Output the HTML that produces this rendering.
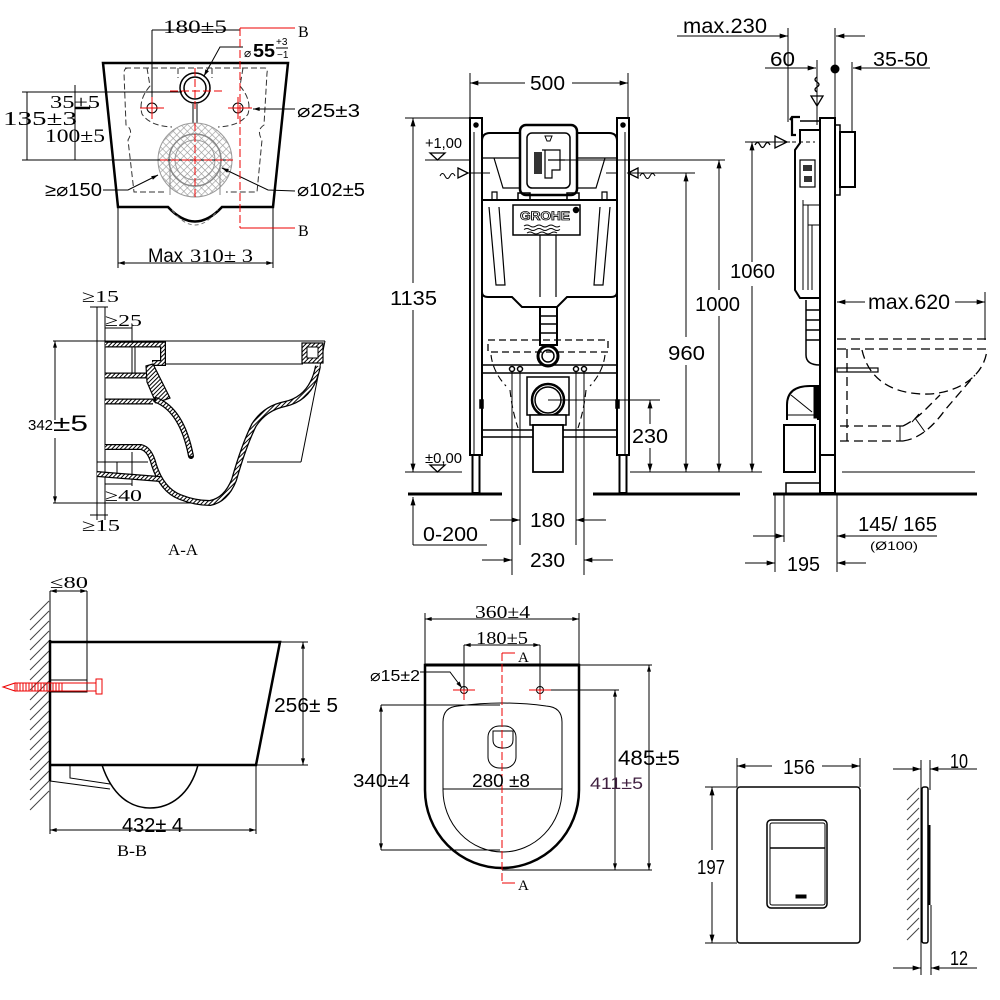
<!DOCTYPE html>
<html><head><meta charset="utf-8"><style>
html,body{margin:0;padding:0;background:#fff;}
svg{display:block;}
.s{font-family:"Liberation Sans",Arial,sans-serif;}
.r{font-family:"Liberation Serif","Times New Roman",serif;}
</style></head><body>
<svg width="1000" height="1000" viewBox="0 0 1000 1000" xmlns="http://www.w3.org/2000/svg" xmlns:xlink="http://www.w3.org/1999/xlink">
<defs>
<marker id="a" viewBox="0 0 10 6" refX="10" refY="3" markerWidth="10" markerHeight="5" markerUnits="userSpaceOnUse" orient="auto-start-reverse"><path d="M0,0 L10,3 L0,6 Z" fill="#000"/></marker>
<marker id="sa" viewBox="0 0 10 6" refX="10" refY="3" markerWidth="7" markerHeight="4" markerUnits="userSpaceOnUse" orient="auto-start-reverse"><path d="M0,0 L10,3 L0,6 Z" fill="#000"/></marker>
<pattern id="hw" width="3" height="3" patternUnits="userSpaceOnUse" patternTransform="rotate(45)"><rect width="3" height="3" fill="#fff"/><rect width="1" height="3" fill="#000"/></pattern>
<pattern id="cx" width="5" height="5" patternUnits="userSpaceOnUse" patternTransform="rotate(45)"><rect width="5" height="5" fill="#fff"/><path d="M0,0 V5 M0,0 H5" stroke="#999" stroke-width="1.2" fill="none"/></pattern>
<path id="w1" d="M105,344.5 H163 V363 H152"/>
<path id="w2" d="M105,375.5 H146"/>
<path id="w3" d="M105,401.5 H153"/>
<path id="w5" d="M156,400 Q182,410 191,456"/>
<path id="w6" d="M105,447 H141 Q150,449 154,465 Q162,490 180,497 Q195,503 210,503 Q226,500 234,480 Q244,445 254,425 Q265,408 285,404 Q312,398 318,366"/>
<path id="w8" d="M97,474 L160,479"/>
</defs>

<!-- ================= PANEL 1: top view ================= -->
<g fill="none" stroke="#000" stroke-width="1">
  <line x1="152" y1="30" x2="240" y2="30"/>
  <line x1="152" y1="30" x2="152" y2="100"/>
  <path d="M103,63 H288 L273,207 H222 Q195,236 168,207 H118 Z" stroke-width="2.5"/>
  <path d="M172,210 Q195,240 218,210" stroke="#777" stroke-dasharray="4 3"/>
  <path d="M125,68 H265 Q268,68 267,73 L264,125 Q256,130 262,140 L257,192 H226 M164,192 H134 L128,140 Q134,130 126,125 L124,73 Q124,68 128,68" stroke-dasharray="6 3" stroke="#333"/>
  <path d="M147,68 L150,86 Q138,100 142,114 Q150,126 172,127 M243,68 L240,86 Q252,100 248,114 Q240,126 218,127 M178,68 V78 M212,68 V78" stroke-dasharray="6 3" stroke="#333"/>
  <circle cx="195" cy="88" r="15" stroke-width="1.5"/>
  <circle cx="195" cy="88" r="11" stroke-width="1.5"/>
  <circle cx="152" cy="108" r="5"/>
  <circle cx="238" cy="108" r="5"/>
  <line x1="193" y1="104" x2="193" y2="124"/><line x1="197" y1="104" x2="197" y2="124"/>
  <circle cx="195" cy="160" r="37" fill="url(#cx)" stroke="#999"/>
  <circle cx="195" cy="160" r="26" stroke="#888" stroke-width="1.5"/>
  <circle cx="195" cy="160" r="20" stroke="#999"/>
  <line x1="170" y1="165" x2="170" y2="195" stroke="#888"/><line x1="220" y1="165" x2="220" y2="195" stroke="#888"/>
  <!-- dims -->
  <line x1="27" y1="92" x2="27" y2="160"/>
  <line x1="22" y1="92" x2="182" y2="92"/>
  <line x1="22" y1="160" x2="233" y2="160"/>
  <line x1="75" y1="85" x2="75" y2="160"/>
  <line x1="75" y1="108" x2="90" y2="108" stroke-width="2.5"/>
  <polyline points="243,47 220,47 204,76" marker-end="url(#sa)"/>
  <line x1="295" y1="109" x2="253" y2="109" marker-end="url(#sa)"/>
  <polyline points="103,190 128,190 158,175" marker-end="url(#sa)"/>
  <polyline points="295,191 268,190 222,168" marker-end="url(#sa)"/>
  <line x1="118" y1="207" x2="118" y2="268"/><line x1="273" y1="207" x2="273" y2="268"/>
  <line x1="118" y1="263" x2="273" y2="263" marker-start="url(#sa)" marker-end="url(#sa)"/>
</g>
<g fill="none" stroke="#e00" stroke-width="1">
  <line x1="240" y1="28" x2="240" y2="228" stroke-dasharray="8 3"/>
  <line x1="240" y1="28" x2="295" y2="28"/><line x1="240" y1="228" x2="295" y2="228"/>
  <line x1="140" y1="108" x2="164" y2="108"/><line x1="152" y1="97" x2="152" y2="119"/>
  <line x1="228" y1="108" x2="252" y2="108"/><line x1="238" y1="97" x2="238" y2="119"/>
  <line x1="170" y1="91" x2="222" y2="91" stroke-dasharray="8 3"/>
  <line x1="195" y1="68" x2="195" y2="110" stroke-dasharray="8 3"/>
  <line x1="160" y1="160" x2="233" y2="160" stroke-dasharray="8 3"/>
  <line x1="195" y1="123" x2="195" y2="200" stroke-dasharray="8 3"/>
</g>
<g fill="#000">
  <text class="r" x="163" y="33" font-size="19" textLength="64" lengthAdjust="spacingAndGlyphs">180±5</text>
  <text class="s" x="244" y="57" font-size="12">⌀</text>
  <text class="s" x="253" y="57" font-size="18" font-weight="bold" textLength="22" lengthAdjust="spacingAndGlyphs">55</text>
  <text class="s" x="276" y="45" font-size="10">+3</text>
  <text class="s" x="277" y="58" font-size="10">−1</text>
  <line x1="276" y1="48" x2="288" y2="48" stroke="#000"/>
  <text class="r" x="50" y="108" font-size="18" textLength="50" lengthAdjust="spacingAndGlyphs">35±5</text>
  <text class="r" x="3" y="125" font-size="20" textLength="74" lengthAdjust="spacingAndGlyphs">135±3</text>
  <text class="r" x="45" y="142" font-size="19" textLength="60" lengthAdjust="spacingAndGlyphs">100±5</text>
  <text class="s" x="297" y="117" font-size="18" textLength="63" lengthAdjust="spacingAndGlyphs">⌀25±3</text>
  <text class="s" x="45" y="196" font-size="18" textLength="57" lengthAdjust="spacingAndGlyphs">≥⌀150</text>
  <text class="s" x="297" y="196" font-size="18" textLength="68" lengthAdjust="spacingAndGlyphs">⌀102±5</text>
  <text class="s" x="148" y="262" font-size="19" textLength="35" lengthAdjust="spacingAndGlyphs">Max</text>
  <text class="r" x="190" y="262" font-size="19" textLength="63" lengthAdjust="spacingAndGlyphs">310± 3</text>
  <text class="r" x="298" y="37" font-size="16">B</text>
  <text class="r" x="298" y="236" font-size="16">B</text>
</g>

<!-- ================= PANEL 2: A-A ================= -->
<g fill="none" stroke="#000" stroke-width="1">
  <line x1="97" y1="307" x2="97" y2="520"/><line x1="105" y1="307" x2="105" y2="520"/>
  <line x1="90" y1="307" x2="108" y2="307"/><line x1="90" y1="515" x2="108" y2="515"/>
  <line x1="105" y1="328" x2="132" y2="328"/>
  <line x1="132" y1="325" x2="132" y2="373"/><line x1="135" y1="347" x2="135" y2="373"/>
  <line x1="53" y1="341" x2="325" y2="341"/>
  <line x1="53" y1="503" x2="195" y2="503"/>
  <line x1="55" y1="341" x2="55" y2="420" marker-start="url(#sa)"/>
  <line x1="55" y1="438" x2="55" y2="503" marker-end="url(#sa)"/>
  <line x1="160" y1="364" x2="303" y2="364"/>
  <line x1="325" y1="341" x2="301" y2="462"/>
  <line x1="247" y1="462" x2="301" y2="462"/>
  <line x1="97" y1="462" x2="148" y2="462"/>
  <line x1="117" y1="462" x2="117" y2="475"/>
  <line x1="132" y1="452" x2="132" y2="486"/>
  <line x1="105" y1="484" x2="132" y2="484"/>
  <use xlink:href="#w1" stroke="#000" stroke-width="6"/><use xlink:href="#w1" stroke="url(#hw)" stroke-width="3.5"/>
  <use xlink:href="#w2" stroke="#000" stroke-width="6"/><use xlink:href="#w2" stroke="url(#hw)" stroke-width="3.5"/>
  <use xlink:href="#w3" stroke="#000" stroke-width="6"/><use xlink:href="#w3" stroke="url(#hw)" stroke-width="3.5"/>
  <polygon points="146,366 153,364 170,398 156,403 147,382" fill="url(#hw)" stroke="#000" stroke-width="1.2"/>
  <use xlink:href="#w5" stroke="#000" stroke-width="6" stroke-linecap="round"/><use xlink:href="#w5" stroke="url(#hw)" stroke-width="3.5"/>
  <use xlink:href="#w6" stroke="#000" stroke-width="6"/><use xlink:href="#w6" stroke="url(#hw)" stroke-width="3.5"/>
  <use xlink:href="#w8" stroke="#000" stroke-width="6"/><use xlink:href="#w8" stroke="url(#hw)" stroke-width="3.5"/>
  <rect x="302" y="343" width="21" height="20" fill="url(#hw)" stroke="#000" stroke-width="1.2"/>
  <rect x="307" y="347" width="11" height="11" fill="#fff" stroke="#000"/>
</g>
<g fill="#000">
  <text class="r" x="82" y="302" font-size="17" textLength="37" lengthAdjust="spacingAndGlyphs">≥15</text>
  <text class="r" x="105" y="326" font-size="17" textLength="37" lengthAdjust="spacingAndGlyphs">≥25</text>
  <text class="s" x="28" y="430" font-size="15" textLength="25" lengthAdjust="spacingAndGlyphs">342</text>
  <text class="s" x="53" y="431" font-size="22" textLength="35" lengthAdjust="spacingAndGlyphs">±5</text>
  <text class="r" x="105" y="501" font-size="17" textLength="37" lengthAdjust="spacingAndGlyphs">≥40</text>
  <text class="r" x="82" y="531" font-size="17" textLength="38" lengthAdjust="spacingAndGlyphs">≥15</text>
  <text class="r" x="168" y="555" font-size="16" textLength="30" lengthAdjust="spacingAndGlyphs">A-A</text>
</g>

<!-- ================= PANEL 3: frame front ================= -->
<g fill="none" stroke="#000" stroke-width="1.5">
  <!-- posts -->
  <rect x="470" y="118" width="12" height="337" stroke-width="2"/>
  <line x1="474" y1="132" x2="474" y2="455" stroke-width="1"/>
  <rect x="472.5" y="455" width="7" height="38" stroke-width="2"/>
  <rect x="617" y="118" width="12" height="337" stroke-width="2"/>
  <line x1="625" y1="132" x2="625" y2="455" stroke-width="1"/>
  <rect x="619.5" y="455" width="7" height="38" stroke-width="2"/>
  <circle cx="476" cy="125" r="2" fill="#000"/><circle cx="623" cy="125" r="2" fill="#000"/>
  <rect x="480" y="400" width="3" height="8" fill="#000"/><rect x="616" y="400" width="3" height="8" fill="#000"/>
  <!-- floor -->
  <line x1="408" y1="494" x2="502" y2="494" stroke-width="3"/>
  <line x1="593" y1="494" x2="740" y2="494" stroke-width="3"/>
  <!-- cistern top -->
  <path d="M482,200 V141 Q482,133 490,133 H609 Q617,133 617,141 V200 Z" stroke-width="2"/>
  <path d="M482,158 H520 M577,158 H617 M494,158 L503,188 H520 M605,158 L596,188 H577" stroke-width="1.2"/>
  <path d="M492,200 V192 H497 V200 M602,200 V192 H607 V200" stroke-width="1.2"/>
  <!-- flush module -->
  <rect x="520" y="125" width="57" height="70" rx="6" stroke-width="2.5" fill="#fff"/>
  <rect x="527" y="133" width="43" height="55" rx="5" stroke-width="1.5"/>
  <path d="M518,200 V193 H530 V200 M567,200 V193 H579 V200" stroke-width="1.5"/>
  <path d="M545,136 H552 L550,141 H547 Z" stroke-width="1"/>
  <rect x="534" y="152" width="8" height="22" fill="#333" stroke="none"/>
  <path d="M542,150 H560 V170 H552 V178 H545 V150 M548,160 H565" stroke-width="1.2"/>
  <!-- tank -->
  <path d="M482,200 V292 Q482,297 488,297 H512 L522,307 H557 L567,297 H611 Q617,297 617,292 V200" stroke-width="2"/>
  <path d="M489,207 L496,285 H505 L499,207 M610,207 L603,285 H594 L600,207" stroke-width="1.2"/>
  <line x1="540" y1="235" x2="540" y2="297" stroke-width="1.2"/><line x1="556" y1="235" x2="556" y2="297" stroke-width="1.2"/>
  <rect x="513" y="205" width="67" height="30" stroke-width="1.5"/>
  <path d="M524,226 q3,-2 6,0 t6,0 t6,0 t6,0 t6,0 t6,0 M524,229.5 q3,-2 6,0 t6,0 t6,0 t6,0 t6,0 t6,0 M527,233 q3,-2 6,0 t6,0 t6,0 t6,0 t6,0" stroke-width="1"/>
  <circle cx="576" cy="210" r="2.5" fill="#000"/>
  <!-- pipe -->
  <rect x="540" y="307" width="17" height="38" stroke-width="2"/>
  <path d="M540,316 H557 M540,324 H557 M540,333 H557" stroke-width="1.5"/>
  <circle cx="548" cy="356" r="10" stroke-width="3"/><circle cx="548" cy="356" r="6"/>
  <rect x="488" y="340" width="120" height="12" stroke-dasharray="7 4" stroke-width="1.3"/>
  <path d="M491,355 Q493,372 506,386 M605,355 Q603,372 590,386 M510,390 Q512,410 518,428 M586,390 Q584,410 578,428" stroke-dasharray="7 4" stroke-width="1.1"/>
  <line x1="482" y1="365" x2="617" y2="365"/><line x1="482" y1="373" x2="617" y2="373"/>
  <line x1="482" y1="430" x2="617" y2="430"/><line x1="482" y1="437" x2="617" y2="437"/>
  <circle cx="512" cy="369" r="2.5"/><circle cx="520" cy="369" r="2.5"/><circle cx="576" cy="369" r="2.5"/><circle cx="584" cy="369" r="2.5"/>
  <rect x="527" y="377" width="42" height="38" stroke-width="1.5" fill="#fff"/>
  <circle cx="548" cy="400" r="16" stroke-width="2.5"/><circle cx="548" cy="400" r="13"/>
  <rect x="530" y="415" width="36" height="10" fill="#fff"/>
  <rect x="533" y="425" width="30" height="47" fill="#fff" stroke-width="1.8"/>
  <!-- vertical ext lines bottom -->
  <g stroke-width="1">
    <line x1="512" y1="372" x2="512" y2="575"/><line x1="520" y1="372" x2="520" y2="545"/>
    <line x1="576" y1="372" x2="576" y2="545"/><line x1="584" y1="372" x2="584" y2="575"/>
    <line x1="490" y1="520" x2="520" y2="520" marker-end="url(#a)"/>
    <line x1="606" y1="520" x2="576" y2="520" marker-end="url(#a)"/>
    <line x1="482" y1="560" x2="512" y2="560" marker-end="url(#a)"/>
    <line x1="613" y1="560" x2="584" y2="560" marker-end="url(#a)"/>
    <line x1="413" y1="545" x2="413" y2="497" marker-end="url(#a)"/>
    <line x1="413" y1="545" x2="487" y2="545"/>
    <!-- 500 -->
    <line x1="470" y1="73" x2="470" y2="118"/><line x1="628" y1="73" x2="628" y2="118"/>
    <line x1="525" y1="83" x2="470" y2="83" marker-end="url(#a)"/>
    <line x1="572" y1="83" x2="628" y2="83" marker-end="url(#a)"/>
    <!-- 1135 -->
    <line x1="405" y1="118" x2="470" y2="118"/>
    <line x1="405" y1="472" x2="462" y2="472"/>
    <line x1="413" y1="283" x2="413" y2="118" marker-end="url(#a)"/>
    <line x1="413" y1="310" x2="413" y2="472" marker-end="url(#a)"/>
    <line x1="425" y1="160" x2="470" y2="160"/>
    <!-- inlets -->
    <path d="M440,176 q2.5,-5 5,0 t5,0 t5,0"/>
    <path d="M458,168 L468,173 L458,178 Z" stroke-width="1.3"/>
    <line x1="468" y1="173" x2="490" y2="173"/>
    <path d="M655,176 q-2.5,-5 -5,0 t-5,0 t-5,0"/>
    <path d="M638,168 L628,173 L638,178 Z" stroke-width="1.3"/>
    <line x1="628" y1="173" x2="695" y2="173"/>
    <line x1="606" y1="173" x2="617" y2="173"/>
    <line x1="560" y1="160" x2="725" y2="160"/>
    <!-- 960 / 1000 / 230 -->
    <line x1="686" y1="337" x2="686" y2="173" marker-end="url(#a)"/>
    <line x1="686" y1="365" x2="686" y2="472" marker-end="url(#a)"/>
    <line x1="719" y1="290" x2="719" y2="160" marker-end="url(#a)"/>
    <line x1="719" y1="316" x2="719" y2="472" marker-end="url(#a)"/>
    <line x1="548" y1="400" x2="660" y2="400"/>
    <line x1="650" y1="424" x2="650" y2="400" marker-end="url(#a)"/>
    <line x1="650" y1="448" x2="650" y2="472" marker-end="url(#a)"/>
    <line x1="630" y1="472" x2="762" y2="472"/>
  </g>
  <path d="M430,153 H445 L437.5,160 Z" stroke-width="1.3"/>
  <path d="M430,465 H445 L437.5,472 Z" stroke-width="1.3"/>
</g>
<g fill="#000">
  <text class="s" x="520" y="220" font-size="12" font-weight="bold" fill="#fff" stroke="#000" stroke-width="0.8" textLength="50" lengthAdjust="spacingAndGlyphs">GROHE</text>
  <text class="s" x="530" y="90" font-size="20" textLength="35" lengthAdjust="spacingAndGlyphs">500</text>
  <text class="s" x="425" y="148" font-size="15" textLength="37" lengthAdjust="spacingAndGlyphs">+1,00</text>
  <text class="s" x="390" y="305" font-size="20" textLength="47" lengthAdjust="spacingAndGlyphs">1135</text>
  <text class="s" x="668" y="360" font-size="20" textLength="37" lengthAdjust="spacingAndGlyphs">960</text>
  <text class="s" x="695" y="311" font-size="20" textLength="45" lengthAdjust="spacingAndGlyphs">1000</text>
  <text class="s" x="632" y="443" font-size="20" textLength="36" lengthAdjust="spacingAndGlyphs">230</text>
  <text class="s" x="425" y="463" font-size="15" textLength="37" lengthAdjust="spacingAndGlyphs">±0,00</text>
  <text class="s" x="423" y="541" font-size="20" textLength="55" lengthAdjust="spacingAndGlyphs">0-200</text>
  <text class="s" x="530" y="527" font-size="20" textLength="35" lengthAdjust="spacingAndGlyphs">180</text>
  <text class="s" x="530" y="567" font-size="20" textLength="35" lengthAdjust="spacingAndGlyphs">230</text>
</g>

<!-- ================= PANEL 4: side view ================= -->
<g fill="none" stroke="#000" stroke-width="1">
  <line x1="677" y1="36" x2="788" y2="36" marker-end="url(#a)"/>
  <line x1="788" y1="28" x2="788" y2="122"/>
  <line x1="835" y1="28" x2="835" y2="118"/>
  <line x1="865" y1="36" x2="836" y2="36" marker-end="url(#a)"/>
  <line x1="765" y1="68" x2="816" y2="68" marker-end="url(#a)"/>
  <line x1="817" y1="60" x2="817" y2="125"/>
  <line x1="930" y1="68" x2="853" y2="68" marker-end="url(#a)"/>
  <line x1="852" y1="62" x2="852" y2="132"/>
  <path d="M817,77 q-4,2.5 0,5 t0,5 t0,5" stroke-width="1.3"/>
  <path d="M811,96 H823 L817,106 Z" stroke-width="1.3"/>
  <!-- board -->
  <rect x="820" y="118" width="15" height="337" stroke-width="2" fill="#fff"/>
  <rect x="820" y="455" width="15" height="38" stroke-width="2"/>
  <rect x="835" y="125" width="5" height="70" stroke-width="1.5"/>
  <rect x="840" y="132" width="15" height="55" stroke-width="2"/>
  <!-- cistern side -->
  <path d="M820,130 H800 V143 L795,150 V290 L800,298 H820" stroke-width="2"/>
  <rect x="800" y="160" width="15" height="27" stroke-width="1.2"/>
  <path d="M803,165 h9 v6 h-9 z M804,176 h8 v6 h-8 z" fill="#333" stroke="none"/>
  <path d="M803,200 V290 M803,205 H820 M808,205 V290 M808,225 H820 M812,225 V290" stroke-width="1"/>
  <path d="M790,120 L792,117 H800 M792,117 V135 H796" stroke-width="2.2"/>
  <line x1="800" y1="121" x2="820" y2="121" stroke-width="1.5"/>
  <path d="M755,145 q2.5,-5 5,0 t5,0 t5,0" stroke-width="1.3"/>
  <path d="M775,136 L787,142 L775,148 Z" stroke-width="1.3"/>
  <line x1="792" y1="142" x2="815" y2="142" stroke-dasharray="4 3"/>
  <!-- pipe below cistern -->
  <path d="M806,300 V355 Q806,365 820,365 M806,310 H820 M806,320 H820 M806,330 H820 M806,340 H820" stroke-width="1.5"/>
  <!-- elbow & boxes -->
  <path d="M787,420 V405 Q787,386 810,386 H818 V420" stroke-width="2"/>
  <rect x="814" y="386" width="5" height="32" fill="#000"/>
  <line x1="791" y1="395" x2="812" y2="412" stroke-width="1"/>
  <line x1="787" y1="415" x2="814" y2="415"/>
  <rect x="784" y="425" width="31" height="47" stroke-width="2"/>
  <rect x="786" y="483" width="34" height="11" stroke-width="1.5"/>
  <!-- dashed toilet -->
  <g stroke-dasharray="9 5" stroke-width="1.3">
    <line x1="837" y1="339" x2="987" y2="339"/>
    <line x1="837" y1="349" x2="987" y2="349"/>
    <path d="M862,350 C870,385 900,395 930,394 C960,392 985,375 987,349"/>
    <line x1="847" y1="349" x2="847" y2="441"/>
    <line x1="840" y1="426" x2="903" y2="426"/>
    <line x1="840" y1="441" x2="903" y2="441"/>
    <path d="M903,441 Q925,438 945,410 L975,375"/>
    <path d="M903,426 Q915,420 925,410 L940,395"/>
  </g>
  <path d="M900,426 V441 M915,418 L925,432 M912,422 L919,414" stroke-width="1"/>
  <rect x="837" y="368" width="41" height="4" stroke-width="1.2"/>
  <!-- dims -->
  <line x1="745" y1="142" x2="790" y2="142"/>
  <line x1="752" y1="262" x2="752" y2="142" marker-end="url(#a)"/>
  <line x1="752" y1="286" x2="752" y2="472" marker-end="url(#a)"/>
  <line x1="842" y1="472" x2="975" y2="472"/>
  <line x1="773" y1="494" x2="977" y2="494" stroke-width="3"/>
  <line x1="865" y1="302" x2="837" y2="302" marker-end="url(#a)"/>
  <line x1="955" y1="302" x2="985" y2="302" marker-end="url(#a)"/>
  <line x1="985" y1="292" x2="985" y2="340"/>
  <line x1="775" y1="494" x2="775" y2="572"/>
  <line x1="784" y1="494" x2="784" y2="542"/>
  <line x1="837" y1="494" x2="837" y2="572"/>
  <line x1="753" y1="536" x2="784" y2="536" marker-end="url(#a)"/>
  <line x1="937" y1="536" x2="837" y2="536" marker-end="url(#a)"/>
  <line x1="745" y1="563" x2="775" y2="563" marker-end="url(#a)"/>
  <line x1="866" y1="563" x2="837" y2="563" marker-end="url(#a)"/>
</g>
<circle cx="835" cy="69" r="4.5" fill="#000"/>
<g fill="#000">
  <text class="s" x="683" y="33" font-size="21" textLength="84" lengthAdjust="spacingAndGlyphs">max.230</text>
  <text class="s" x="770" y="66" font-size="20" textLength="25" lengthAdjust="spacingAndGlyphs">60</text>
  <text class="s" x="873" y="66" font-size="20" textLength="55" lengthAdjust="spacingAndGlyphs">35-50</text>
  <text class="s" x="730" y="278" font-size="20" textLength="45" lengthAdjust="spacingAndGlyphs">1060</text>
  <text class="s" x="868" y="309" font-size="21" textLength="82" lengthAdjust="spacingAndGlyphs">max.620</text>
  <text class="s" x="858" y="531" font-size="20" textLength="79" lengthAdjust="spacingAndGlyphs">145/ 165</text>
  <text class="s" x="870" y="550" font-size="12" textLength="48" lengthAdjust="spacingAndGlyphs">(Ø100)</text>
  <text class="s" x="787" y="571" font-size="20" textLength="33" lengthAdjust="spacingAndGlyphs">195</text>
</g>

<!-- ================= PANEL 5: B-B ================= -->
<g fill="none" stroke="#000" stroke-width="1">
  <g stroke="#444">
    <line x1="30" y1="620" x2="49" y2="601"/><line x1="30" y1="630" x2="49" y2="611"/><line x1="30" y1="640" x2="49" y2="621"/>
    <line x1="30" y1="650" x2="49" y2="631"/><line x1="30" y1="660" x2="49" y2="641"/><line x1="30" y1="670" x2="49" y2="651"/>
    <line x1="30" y1="680" x2="49" y2="661"/><line x1="30" y1="690" x2="49" y2="671"/><line x1="30" y1="700" x2="49" y2="681"/>
    <line x1="30" y1="710" x2="49" y2="691"/><line x1="30" y1="720" x2="49" y2="701"/><line x1="30" y1="730" x2="49" y2="711"/>
    <line x1="30" y1="740" x2="49" y2="721"/><line x1="30" y1="750" x2="49" y2="731"/><line x1="30" y1="760" x2="49" y2="741"/>
    <line x1="30" y1="770" x2="49" y2="751"/><line x1="30" y1="780" x2="49" y2="761"/><line x1="30" y1="790" x2="49" y2="771"/>
    <line x1="30" y1="800" x2="49" y2="781"/><line x1="30" y1="810" x2="49" y2="791"/>
  </g>
  <line x1="50" y1="640" x2="50" y2="781" stroke-width="2.5"/>
  <line x1="50" y1="591" x2="50" y2="642"/><line x1="87" y1="591" x2="87" y2="692"/>
  <line x1="50" y1="591" x2="87" y2="591" marker-start="url(#sa)" marker-end="url(#sa)"/>
  <polyline points="50,642 280,642 256,765 50,765" stroke-width="2.5"/>
  <rect x="50" y="680" width="37" height="12"/>
  <polyline points="70,765 70,778 110,784"/>
  <line x1="50" y1="781" x2="110" y2="789"/>
  <path d="M102,765 C112,795 130,808 150,808 C170,808 190,795 198,765" stroke-width="1.5"/>
  <line x1="303" y1="642" x2="303" y2="765" marker-start="url(#sa)" marker-end="url(#sa)"/>
  <line x1="280" y1="642" x2="308" y2="642"/><line x1="256" y1="765" x2="308" y2="765"/>
  <line x1="50" y1="765" x2="50" y2="834"/><line x1="256" y1="765" x2="256" y2="834"/>
  <line x1="50" y1="830" x2="256" y2="830" marker-start="url(#sa)" marker-end="url(#sa)"/>
</g>
<g fill="none" stroke="#e00" stroke-width="1">
  <rect x="50" y="683" width="46" height="8"/>
  <rect x="96" y="679" width="6" height="15"/>
  <path d="M3,687 L15,683 V691 Z"/>
  <path d="M17,683 V691 M20,683 V691 M23,683 V691 M26,683 V691 M29,683 V691 M32,683 V691 M35,683 V691 M38,683 V691 M41,683 V691 M44,683 V691 M47,683 V691 M50,683 V691 M53,683 V691 M56,683 V691 M59,683 V691 M62,683 V691"/>
  <line x1="15" y1="683" x2="50" y2="683"/><line x1="15" y1="691" x2="50" y2="691"/>
</g>
<g fill="#000">
  <text class="r" x="50" y="588" font-size="17" textLength="38" lengthAdjust="spacingAndGlyphs">≤80</text>
  <text class="s" x="274" y="712" font-size="20" textLength="64" lengthAdjust="spacingAndGlyphs">256± 5</text>
  <text class="s" x="122" y="832" font-size="20" textLength="61" lengthAdjust="spacingAndGlyphs">432± 4</text>
  <text class="r" x="117" y="856" font-size="16" textLength="30" lengthAdjust="spacingAndGlyphs">B-B</text>
</g>

<!-- ================= PANEL 6: bowl top ================= -->
<g fill="none" stroke="#000" stroke-width="1">
  <line x1="425" y1="613" x2="425" y2="665"/><line x1="579" y1="613" x2="579" y2="665"/>
  <line x1="425" y1="619" x2="579" y2="619" marker-start="url(#sa)" marker-end="url(#sa)"/>
  <line x1="464" y1="645" x2="464" y2="692"/><line x1="540" y1="645" x2="540" y2="692"/>
  <line x1="464" y1="645" x2="540" y2="645" marker-start="url(#sa)" marker-end="url(#sa)"/>
  <path d="M425,665 H579 V790 A77,78 0 0 1 425,790 Z" stroke-width="2.5"/>
  <line x1="425" y1="665" x2="579" y2="665" stroke-width="3"/>
  <path d="M443,722 Q443,707 458,706 Q502,700 546,706 Q562,707 562,722 V790 A59.5,62 0 0 1 443,790 Z"/>
  <rect x="488" y="726" width="28" height="42" rx="11"/>
  <path d="M493,731 V740 Q493,748 503,748 Q513,748 513,740 V731 Z"/>
  <circle cx="464" cy="690" r="3.5"/><circle cx="540" cy="690" r="3.5"/>
  <polyline points="420,672 450,672 462,688" marker-end="url(#sa)"/>
  <line x1="443" y1="789" x2="562" y2="789"/>
  <line x1="381" y1="705" x2="500" y2="705"/><line x1="381" y1="850" x2="500" y2="850"/>
  <line x1="381" y1="705" x2="381" y2="850" marker-start="url(#sa)" marker-end="url(#sa)"/>
  <line x1="579" y1="665" x2="652" y2="665"/><line x1="502" y1="870" x2="652" y2="870"/>
  <line x1="649" y1="665" x2="649" y2="870" marker-start="url(#sa)" marker-end="url(#sa)"/>
  <line x1="540" y1="690" x2="619" y2="690"/>
  <line x1="615" y1="690" x2="615" y2="870" marker-start="url(#sa)" marker-end="url(#sa)"/>
</g>
<g fill="none" stroke="#e00" stroke-width="1">
  <line x1="502" y1="653" x2="502" y2="883" stroke-dasharray="8 3"/>
  <line x1="502" y1="653" x2="515" y2="653"/><line x1="502" y1="883" x2="515" y2="883"/>
  <line x1="453" y1="690" x2="475" y2="690"/><line x1="464" y1="690" x2="464" y2="700"/>
  <line x1="529" y1="690" x2="551" y2="690"/><line x1="540" y1="690" x2="540" y2="700"/>
</g>
<g fill="#000">
  <text class="r" x="475" y="618" font-size="18" textLength="55" lengthAdjust="spacingAndGlyphs">360±4</text>
  <text class="r" x="476" y="644" font-size="18" textLength="52" lengthAdjust="spacingAndGlyphs">180±5</text>
  <text class="s" x="370" y="681" font-size="16" textLength="50" lengthAdjust="spacingAndGlyphs">⌀15±2</text>
  <text class="s" x="353" y="787" font-size="18" textLength="57" lengthAdjust="spacingAndGlyphs">340±4</text>
  <text class="s" x="472" y="787" font-size="18" textLength="58" lengthAdjust="spacingAndGlyphs">280 ±8</text>
  <text class="s" x="590" y="789" font-size="17" fill="#402040" textLength="53" lengthAdjust="spacingAndGlyphs">411±5</text>
  <text class="s" x="618" y="765" font-size="21" textLength="62" lengthAdjust="spacingAndGlyphs">485±5</text>
  <text class="r" x="518" y="662" font-size="15">A</text>
  <text class="r" x="518" y="890" font-size="15">A</text>
</g>

<!-- ================= PANEL 7: flush plate ================= -->
<g fill="none" stroke="#000" stroke-width="1">
  <line x1="737" y1="758" x2="737" y2="787"/><line x1="860" y1="758" x2="860" y2="787"/>
  <line x1="772" y1="766" x2="737" y2="766" marker-end="url(#a)"/>
  <line x1="822" y1="766" x2="860" y2="766" marker-end="url(#a)"/>
  <rect x="737" y="787" width="123" height="156" rx="3" stroke-width="1.5"/>
  <rect x="767" y="820" width="60" height="88" rx="4" stroke-width="1.5"/>
  <rect x="770" y="823" width="55" height="82" rx="2"/>
  <line x1="770" y1="848" x2="825" y2="848" stroke-width="1.5"/>
  <rect x="796" y="895" width="10" height="3" fill="#000"/>
  <line x1="705" y1="787" x2="737" y2="787"/><line x1="705" y1="943" x2="737" y2="943"/>
  <line x1="712" y1="850" x2="712" y2="787" marker-end="url(#a)"/>
  <line x1="712" y1="882" x2="712" y2="943" marker-end="url(#a)"/>
  <!-- side -->
  <g stroke="#444">
    <line x1="907" y1="800" x2="919" y2="788"/><line x1="907" y1="810" x2="919" y2="798"/><line x1="907" y1="820" x2="919" y2="808"/>
    <line x1="907" y1="830" x2="919" y2="818"/><line x1="907" y1="840" x2="919" y2="828"/><line x1="907" y1="850" x2="919" y2="838"/>
    <line x1="907" y1="860" x2="919" y2="848"/><line x1="907" y1="870" x2="919" y2="858"/><line x1="907" y1="880" x2="919" y2="868"/>
    <line x1="907" y1="890" x2="919" y2="878"/><line x1="907" y1="900" x2="919" y2="888"/><line x1="907" y1="910" x2="919" y2="898"/>
    <line x1="907" y1="920" x2="919" y2="908"/><line x1="907" y1="930" x2="919" y2="918"/><line x1="907" y1="940" x2="919" y2="928"/>
  </g>
  <line x1="921" y1="760" x2="921" y2="975"/>
  <rect x="922" y="787" width="6" height="156" rx="2" stroke-width="1.5"/>
  <line x1="929.5" y1="825" x2="929.5" y2="905" stroke-width="2"/>
  <line x1="930" y1="760" x2="930" y2="790"/>
  <line x1="931" y1="905" x2="931" y2="975"/>
  <line x1="893" y1="769" x2="921" y2="769" marker-end="url(#a)"/>
  <line x1="977" y1="769" x2="930" y2="769" marker-end="url(#a)"/>
  <line x1="893" y1="968" x2="921" y2="968" marker-end="url(#a)"/>
  <line x1="977" y1="968" x2="931" y2="968" marker-end="url(#a)"/>
</g>
<g fill="#000">
  <text class="s" x="783" y="774" font-size="20" textLength="32" lengthAdjust="spacingAndGlyphs">156</text>
  <text class="s" x="697" y="874" font-size="20" textLength="28" lengthAdjust="spacingAndGlyphs">197</text>
  <text class="s" x="950" y="768" font-size="20" textLength="18" lengthAdjust="spacingAndGlyphs">10</text>
  <text class="s" x="950" y="965" font-size="20" textLength="18" lengthAdjust="spacingAndGlyphs">12</text>
</g>
</svg>
</body></html>
